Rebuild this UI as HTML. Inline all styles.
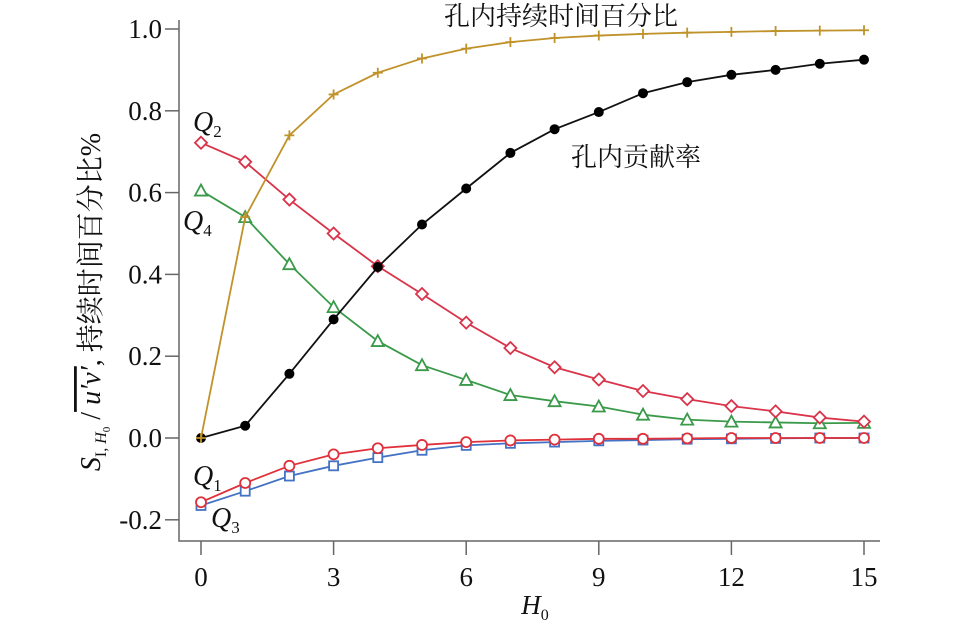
<!DOCTYPE html>
<html><head><meta charset="utf-8"><style>
body{margin:0;background:#fff}
svg text{font-family:"Liberation Serif","Noto Serif CJK SC",serif;fill:#111}
</style></head><body>
<svg width="957" height="630" xmlns="http://www.w3.org/2000/svg">
<g id="axes"></g>
<g id="series"></g>
<text x="535" y="614" font-size="27" font-style="italic" text-anchor="middle">H<tspan font-size="16" dy="6" font-style="normal">0</tspan></text>
<text transform="translate(100,302) rotate(-90)" font-size="28" text-anchor="middle"><tspan font-style="italic">S</tspan><tspan font-size="16" dy="6">I</tspan><tspan font-size="16">, </tspan><tspan font-size="16" font-style="italic">H</tspan><tspan font-size="11" dy="4">0</tspan><tspan dy="-10"> /</tspan><tspan font-style="italic" text-decoration="overline"> u′v′</tspan>, 持续时间百分比%</text>
<text x="561" y="25" font-size="26" text-anchor="middle">孔内持续时间百分比</text>
<text x="636" y="166" font-size="26" text-anchor="middle">孔内贡献率</text>
<text x="193" y="131" font-size="28" font-style="italic">Q<tspan font-size="17" dy="6" font-style="normal">2</tspan></text>
<text x="183" y="230" font-size="28" font-style="italic">Q<tspan font-size="17" dy="6" font-style="normal">4</tspan></text>
<text x="193" y="485" font-size="28" font-style="italic">Q<tspan font-size="17" dy="6" font-style="normal">1</tspan></text>
<text x="211" y="527" font-size="28" font-style="italic">Q<tspan font-size="17" dy="6" font-style="normal">3</tspan></text>
</svg>
<script>
const xs=[0,1,2,3,4,5,6,7,8,9,10,11,12,13,14,15];
const duration=[0,0.54,0.74,0.84,0.893,0.928,0.952,0.968,0.978,0.984,0.988,0.991,0.993,0.995,0.996,0.997];
const contribution=[0,0.03,0.157,0.29,0.418,0.522,0.61,0.697,0.755,0.797,0.843,0.87,0.888,0.9,0.915,0.925];
const q2=[0.722,0.675,0.583,0.5,0.42,0.352,0.282,0.22,0.173,0.143,0.115,0.095,0.078,0.065,0.05,0.04];
const q4=[0.605,0.54,0.425,0.32,0.237,0.178,0.142,0.105,0.09,0.077,0.057,0.045,0.04,0.038,0.036,0.037];
const q1=[-0.157,-0.11,-0.068,-0.04,-0.025,-0.017,-0.01,-0.006,-0.004,-0.002,-0.002,-0.001,0,0,0,0];
const q3=[-0.165,-0.13,-0.093,-0.068,-0.048,-0.03,-0.018,-0.013,-0.01,-0.007,-0.005,-0.003,-0.002,-0.001,0,0];
const xTicks=[0,3,6,9,12,15];
const yTicks=["-0.2","0.0","0.2","0.4","0.6","0.8","1.0"];
const X=v=>201+v*44.2, Y=v=>438-v*409;
const NS="http://www.w3.org/2000/svg";
function mk(p,t,a){const e=document.createElementNS(NS,t);for(const k in a)e.setAttribute(k,a[k]);p.appendChild(e);return e;}
const ax=document.getElementById('axes');
let e=mk(ax,'path',{d:'M179,20V541H880',fill:'none',stroke:'#666','stroke-width':1.5});


yTicks.forEach(t=>{const y=Y(parseFloat(t));
let l=mk(ax,'line',{x1:165,x2:179,y1:y,y2:y,stroke:'#666','stroke-width':1.5});


let tx=mk(ax,'text',{x:162,y:y+9,'font-size':27,'text-anchor':'end'});tx.textContent=t;

});
xTicks.forEach(t=>{const x=X(t);
let l=mk(ax,'line',{x1:x,x2:x,y1:541,y2:555,stroke:'#666','stroke-width':1.5});


let tx=mk(ax,'text',{x:x,y:586,'font-size':27,'text-anchor':'middle'});tx.textContent=t;

});
const sg=document.getElementById('series');
function series(name,data,color,marker){
 const g=mk(sg,'g',{});
 
 
 const pl=mk(g,'polyline',{points:data.map((v,i)=>X(xs[i])+','+Y(v)).join(' '),fill:'none',stroke:color,'stroke-width':1.8});
 
 
 data.forEach((v,i)=>{const x=X(xs[i]),y=Y(v);let m;
  if(marker==='dot')m=mk(g,'circle',{cx:x,cy:y,r:5,fill:'#000'});
  else if(marker==='circle')m=mk(g,'circle',{cx:x,cy:y,r:5,fill:'#fff',stroke:color,'stroke-width':1.8});
  else if(marker==='square')m=mk(g,'rect',{x:x-4.5,y:y-4.5,width:9,height:9,fill:'#fff',stroke:color,'stroke-width':1.8});
  else if(marker==='diamond')m=mk(g,'path',{d:`M${x},${y-6}L${x+6},${y}L${x},${y+6}L${x-6},${y}Z`,fill:'#fff',stroke:color,'stroke-width':1.8});
  else if(marker==='tri')m=mk(g,'path',{d:`M${x},${y-6}L${x+6},${y+5}L${x-6},${y+5}Z`,fill:'#fff',stroke:color,'stroke-width':1.8});
  else m=mk(g,'path',{d:`M${x-5},${y}H${x+5}M${x},${y-5}V${y+5}`,stroke:color,'stroke-width':1.8});
  
  });
}
series('q3-series',q3,'#4472c4','square');
series('q1-series',q1,'#e0303a','circle');
series('q4-series',q4,'#3a9a4a','tri');
series('q2-series',q2,'#d9344a','diamond');
series('contribution-series',contribution,'#111','dot');
series('duration-series',duration,'#c0922a','plus');
</script>
</body></html>
